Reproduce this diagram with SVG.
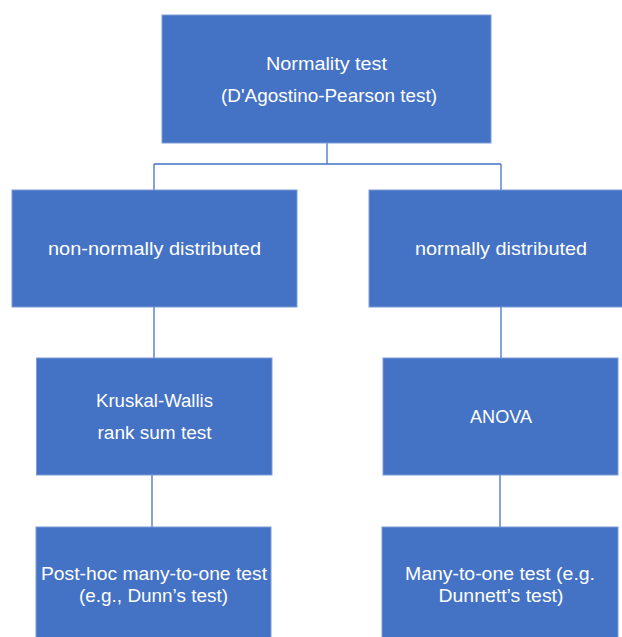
<svg xmlns="http://www.w3.org/2000/svg" width="622" height="637" viewBox="0 0 622 637">
<style>
.box{fill:#4472C4;stroke:#7C9BD6;stroke-width:1}
.lbl{font-family:"Liberation Sans",Arial,sans-serif;font-size:18px;fill:#FFFFFF;text-anchor:middle}
.con{stroke:#4472C4;stroke-width:1.3;fill:none}
</style>
<rect width="622" height="637" fill="#FFFFFF"/>
<g id="connectors">
<path class="con" d="M327 143 V164 M154 164 H501 M154 164 V190 M501 164 V190"/>
<path class="con" d="M154 307 V358"/>
<path class="con" d="M501 307 V358"/>
<path class="con" d="M152 475 V527"/>
<path class="con" d="M500 475 V527"/>
</g>
<g id="normality">
<rect class="box" x="162" y="15" width="329" height="128"/>
<text class="lbl" x="326.5" y="70" textLength="121" lengthAdjust="spacingAndGlyphs">Normality test</text>
<text class="lbl" x="329" y="102" textLength="216" lengthAdjust="spacingAndGlyphs">(D'Agostino-Pearson test)</text>
</g>
<g id="nonnormal">
<rect class="box" x="12" y="190" width="285" height="117"/>
<text class="lbl" x="154.5" y="255" textLength="213" lengthAdjust="spacingAndGlyphs">non-normally distributed</text>
</g>
<g id="normal">
<rect class="box" x="369" y="190" width="270" height="117"/>
<text class="lbl" x="501" y="255" textLength="172" lengthAdjust="spacingAndGlyphs">normally distributed</text>
</g>
<g id="kruskal">
<rect class="box" x="36.5" y="358" width="235.5" height="117"/>
<text class="lbl" x="154.5" y="407" textLength="117" lengthAdjust="spacingAndGlyphs">Kruskal-Wallis</text>
<text class="lbl" x="154.5" y="439" textLength="114" lengthAdjust="spacingAndGlyphs">rank sum test</text>
</g>
<g id="anova">
<rect class="box" x="383" y="358" width="235" height="117"/>
<text class="lbl" x="501" y="423" textLength="62" lengthAdjust="spacingAndGlyphs">ANOVA</text>
</g>
<g id="posthoc">
<rect class="box" x="36" y="527" width="235" height="120"/>
<text class="lbl" x="154" y="580" textLength="226" lengthAdjust="spacingAndGlyphs">Post-hoc many-to-one test</text>
<text class="lbl" x="153.5" y="602" textLength="149" lengthAdjust="spacingAndGlyphs">(e.g., Dunn’s test)</text>
</g>
<g id="manytoone">
<rect class="box" x="382" y="527" width="236" height="120"/>
<text class="lbl" x="500" y="580" textLength="190" lengthAdjust="spacingAndGlyphs">Many-to-one test (e.g.</text>
<text class="lbl" x="501" y="602" textLength="125" lengthAdjust="spacingAndGlyphs">Dunnett’s test)</text>
</g>
</svg>
